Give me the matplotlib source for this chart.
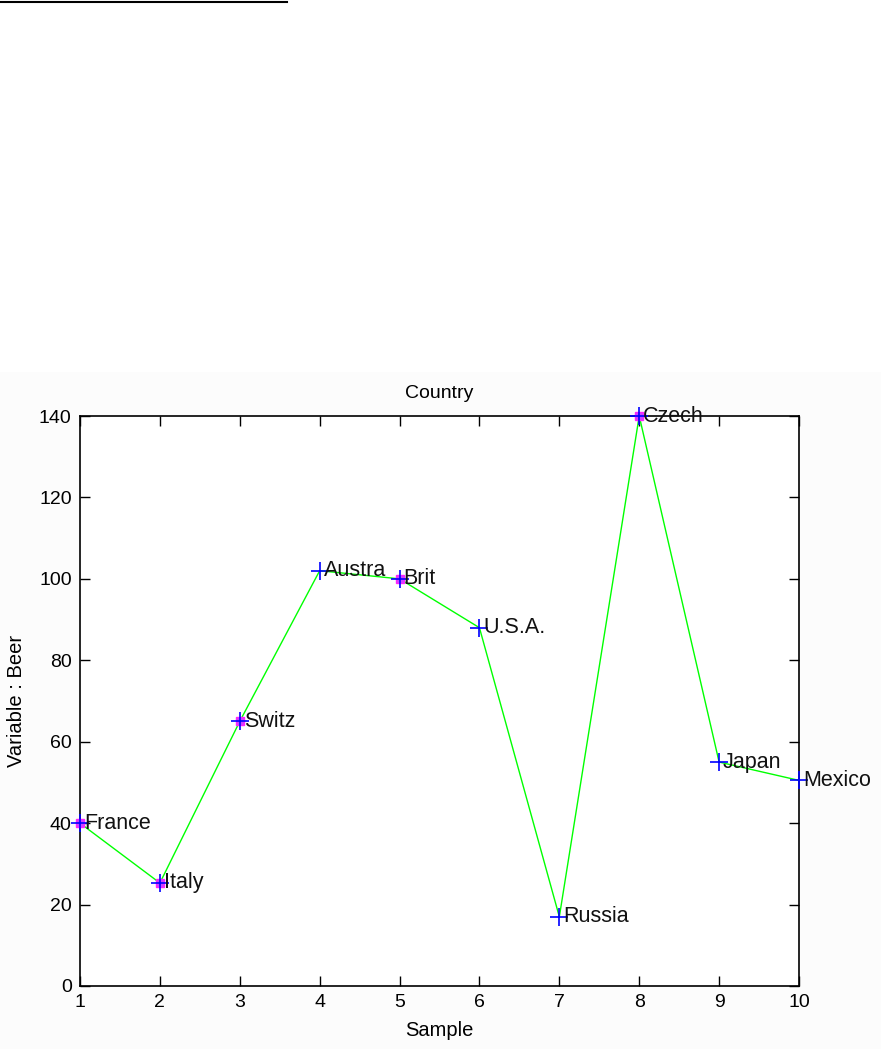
import matplotlib
matplotlib.use("Agg")
import matplotlib.pyplot as plt
from matplotlib.lines import Line2D
from matplotlib.patches import Rectangle

countries = ["France", "Italy", "Switz", "Austra", "Brit", "U.S.A.", "Russia", "Czech", "Japan", "Mexico"]
samples = [1, 2, 3, 4, 5, 6, 7, 8, 9, 10]
beer = [40.0, 25.3, 65.0, 102.0, 100.0, 88.0, 17.0, 140.0, 55.0, 50.5]
highlighted = [True, True, True, False, True, False, False, True, False, False]

plt.rcParams['font.family'] = ['Liberation Sans', 'DejaVu Sans']

W, H = 881, 1049
fig = plt.figure(figsize=(W / 100, H / 100), dpi=100)
fig.patch.set_facecolor('white')
fig.add_artist(Rectangle((0, 0), 1, (H - 372) / H, transform=fig.transFigure,
                         facecolor='#fcfcfc', edgecolor='none', zorder=-10))
fig.add_artist(Line2D([0, 287 / W], [1 - 1.5 / H, 1 - 1.5 / H], transform=fig.transFigure,
                      color='black', lw=1.5))

ax = fig.add_axes([80 / W, (H - 986) / H, 719 / W, 570 / H])
ax.set_facecolor('white')
ax.plot(samples, beer, color='#00ff00', lw=1, clip_on=False)
hx = [s for s, h in zip(samples, highlighted) if h]
hy = [b for b, h in zip(beer, highlighted) if h]
ax.plot(hx, hy, 's', color='#cc44ff', markersize=6, markeredgecolor='#ff22ff', ls='none', clip_on=False, zorder=3)
ax.plot(samples, beer, '+', color='#0000ff', markersize=13, mew=1.2, ls='none', clip_on=False, zorder=4)
for s, b, c in zip(samples, beer, countries):
    ax.text(s + 0.05, b, c, fontsize=15.5, va='center', ha='left', color='#111111', clip_on=False, zorder=5)

ax.set_xlim(1, 10)
ax.set_ylim(0, 140)
ax.set_xticks(samples)
ax.set_yticks(range(0, 141, 20))
ax.tick_params(direction='in', length=7, width=1, top=True, right=True, labelsize=14, pad=6)
for sp in ax.spines.values():
    sp.set_linewidth(1.2)
ax.set_title("Country", fontsize=14, pad=13)
ax.set_xlabel("Sample", fontsize=14.5, labelpad=7)
ax.set_ylabel("Variable : Beer", fontsize=14.5, labelpad=9)

fig.savefig("out.png", dpi=100)
